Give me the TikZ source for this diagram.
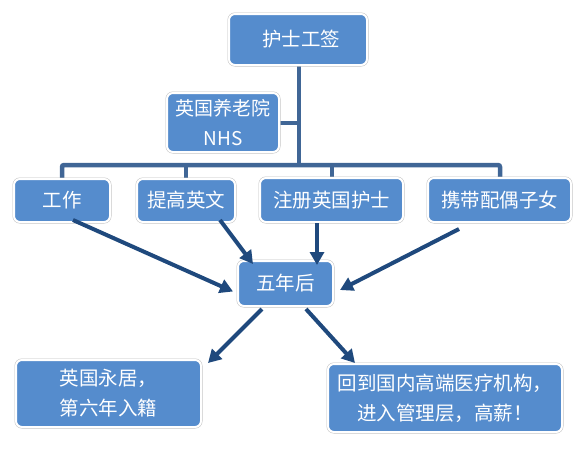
\documentclass[tikz,border=0pt]{standalone}
\usepackage{fontspec}
\newfontfamily\cjk{Noto Sans CJK SC}
\usetikzlibrary{arrows.meta,positioning}
\definecolor{caixa}{RGB}{85,140,205}
\definecolor{linha}{RGB}{64,102,150}
\definecolor{seta}{RGB}{31,73,125}

\begin{document}
\begin{tikzpicture}[x=1pt,y=-1pt,
        caixa/.style={fill=caixa,draw=white,line width=2pt,rounded corners=6pt,
                      preaction={draw=black!25,line width=3pt},
                      text=white,align=center,inner sep=2pt,
                      font=\cjk\fontsize{19.5}{30}\selectfont},
        ramo/.style={draw=linha,line width=4.5pt,rounded corners=2pt},
        flecha/.style={-{Triangle[length=13pt,width=14pt]},draw=seta,line width=4pt}]
      \useasboundingbox (0,0) rectangle (581,448);
      \coordinate (barra) at (299,165);
      % conectores da arvore
      \draw[ramo] (62,178) |- (barra) -| (500,178);
      \draw[ramo] (186,178) -- (186,165);
      \draw[ramo] (332,178) -- (332,165);
      \draw[ramo] (299,66) -- (barra);
      \draw[ramo] (280,123) -- (299,123);
      % caixas
      \node[caixa,minimum width=138pt,minimum height=51pt] (hs) at (298,39.5) {\hspace{6pt}护士工签};
      \node[caixa,minimum width=112pt,minimum height=59pt,font=\cjk\fontsize{19}{30}\selectfont] (nhs) at (223,122.5) {英国养老院\\NHS};
      \node[caixa,minimum width=96pt,minimum height=43pt] (gz) at (62,200.5) {工作};
      \node[caixa,minimum width=98pt,minimum height=43pt] (tg) at (186,200.5) {提高英文};
      \node[caixa,minimum width=143pt,minimum height=44pt] (zc) at (331.5,200) {注册英国护士};
      \node[caixa,minimum width=143pt,minimum height=44pt] (xd) at (499.5,200) {携带配偶子女};
      \node[caixa,minimum width=95pt,minimum height=45pt] (wn) at (285.5,283.5) {五年后};
      \node[caixa,minimum width=185pt,minimum height=67pt] (yj) at (108.5,393.5) {英国永居，\\第六年入籍};
      \node[caixa,minimum width=234pt,minimum height=68pt] (hg) at (445,398) {回到国内高端医疗机构，\\进入管理层，高薪！};
      % setas
      \draw[flecha] ([xshift=11pt,yshift=3pt]gz.south) -- ([xshift=-4pt,yshift=-8pt]wn.west);
      \draw[flecha] ([xshift=34pt,yshift=3pt]tg.south) -- ([xshift=-32.5pt,yshift=-4pt]wn.north);
      \draw[flecha] ([xshift=-14.5pt]zc.south) -- ([xshift=31.5pt,yshift=-5pt]wn.north);
      \draw[flecha] ([xshift=-40.5pt,yshift=-6pt]xd.south) -- ([xshift=6pt,yshift=-6.5pt]wn.east);
      \draw[flecha] ([xshift=-23.5pt,yshift=-2pt]wn.south) -- ([xshift=6pt,yshift=-4pt]yj.north east);
      \draw[flecha] ([xshift=20.5pt,yshift=-2pt]wn.south) -- ([xshift=28pt]hg.north west);
    \end{tikzpicture}
\end{document}
